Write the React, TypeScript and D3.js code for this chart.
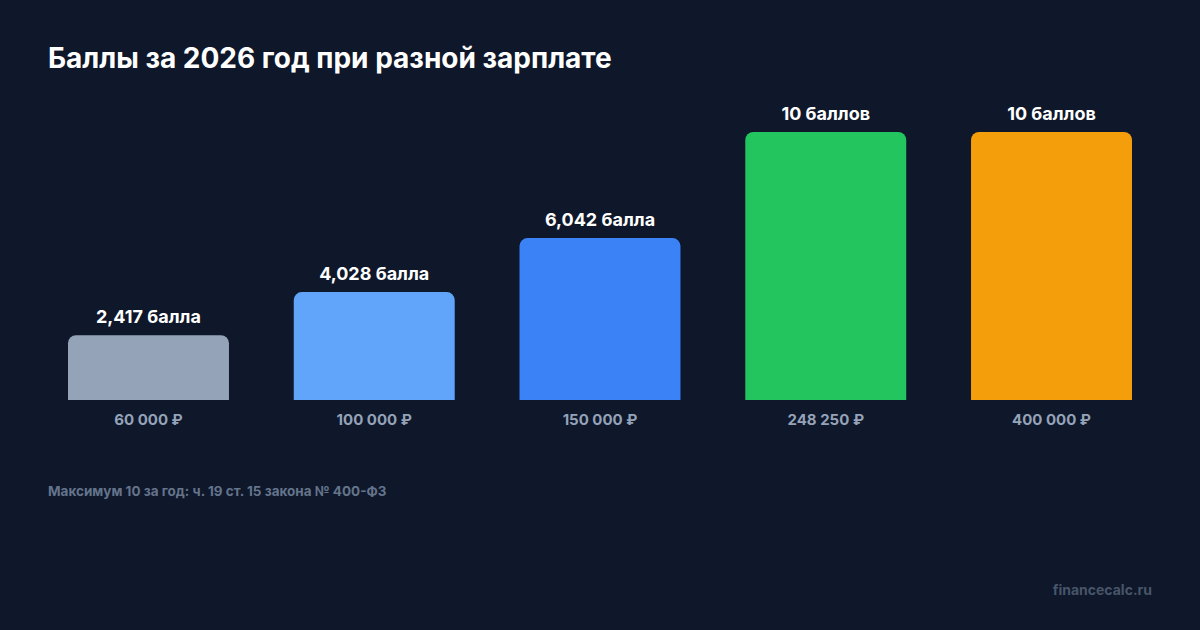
import React, { useEffect, useRef } from "react";
import * as d3 from "d3";

const salaries = ["60 000 ₽", "100 000 ₽", "150 000 ₽", "248 250 ₽", "400 000 ₽"];
const points = [2.417, 4.028, 6.042, 10, 10];
const pointLabels = ["2,417 балла", "4,028 балла", "6,042 балла", "10 баллов", "10 баллов"];
const barColors = ["#94a3b8", "#60a5fa", "#3b82f6", "#22c55e", "#f59e0b"];

const App: React.FC = () => {
  const svgRef = useRef<SVGSVGElement | null>(null);

  useEffect(() => {
    d3.select(svgRef.current).selectAll("*").remove();

    const w = 1200;
    const h = 630;
    const font = "Inter, 'Noto Sans', sans-serif";

    const svg = d3
      .select(svgRef.current)
      .attr("width", w)
      .attr("height", h)
      .attr("viewBox", `0 0 ${w} ${h}`)
      .style("background-color", "#0f172a");

    svg.append("rect").attr("width", w).attr("height", h).attr("fill", "#0f172a");

    const x = d3
      .scaleBand<string>()
      .domain(salaries)
      .range([68, 1132])
      .paddingInner(0.287)
      .paddingOuter(0);

    const y = d3.scaleLinear().domain([0, 10]).range([400, 132]);

    // title
    svg.append("text")
      .attr("x", 48)
      .attr("y", 68)
      .style("font-family", font)
      .style("font-size", "28px")
      .style("font-weight", "700")
      .style("fill", "#ffffff")
      .text("Баллы за 2026 год при разной зарплате");

    // bars with rounded top corners
    const r = 8;
    const bars = svg.append("g");
    salaries.forEach((s, i) => {
      const x0 = x(s)!;
      const x1 = x0 + x.bandwidth();
      const y0 = y(points[i]);
      const yb = y(0);
      const p = d3.path();
      p.moveTo(x0, yb);
      p.lineTo(x0, y0 + r);
      p.arcTo(x0, y0, x0 + r, y0, r);
      p.lineTo(x1 - r, y0);
      p.arcTo(x1, y0, x1, y0 + r, r);
      p.lineTo(x1, yb);
      p.closePath();
      bars.append("path").attr("d", p.toString()).attr("fill", barColors[i]);

      bars.append("text")
        .attr("x", x0 + x.bandwidth() / 2)
        .attr("y", y0 - 12)
        .attr("text-anchor", "middle")
        .style("font-family", font)
        .style("font-size", "18px")
        .style("font-weight", "700")
        .style("fill", "#ffffff")
        .text(pointLabels[i]);

      bars.append("text")
        .attr("x", x0 + x.bandwidth() / 2)
        .attr("y", 425)
        .attr("text-anchor", "middle")
        .style("font-family", font)
        .style("font-size", "15px")
        .style("font-weight", "700")
        .style("fill", "#94a3b8")
        .text(s);
    });

    // footnote
    svg.append("text")
      .attr("x", 48)
      .attr("y", 496)
      .style("font-family", font)
      .style("font-size", "13.5px")
      .style("font-weight", "700")
      .style("fill", "#64748b")
      .text("Максимум 10 за год: ч. 19 ст. 15 закона № 400-ФЗ");

    // watermark
    svg.append("text")
      .attr("x", 1152)
      .attr("y", 595)
      .attr("text-anchor", "end")
      .style("font-family", font)
      .style("font-size", "14px")
      .style("font-weight", "700")
      .style("fill", "#475569")
      .text("financecalc.ru");
  }, []);

  return (
    <div style={{ position: "absolute", top: 0, left: 0, width: 1200, height: 630 }}>
      <svg ref={svgRef} style={{ display: "block" }}></svg>
    </div>
  );
};

export default App;
